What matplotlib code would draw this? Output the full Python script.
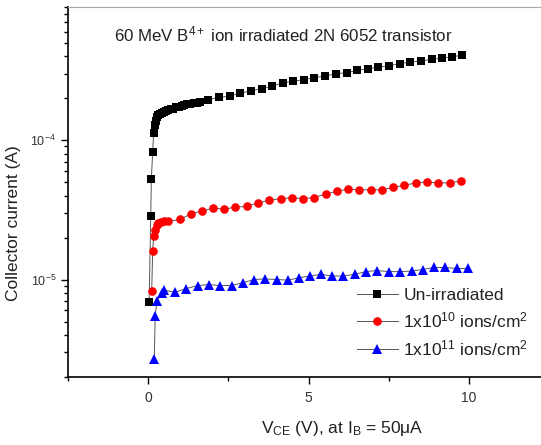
import matplotlib
matplotlib.use("Agg")
import matplotlib.pyplot as plt
from matplotlib.ticker import FixedLocator, LogLocator, NullFormatter, MultipleLocator

plt.rcParams["font.family"] = ["Liberation Sans", "DejaVu Sans"]
plt.rcParams["mathtext.fontset"] = "custom"
plt.rcParams["mathtext.rm"] = "Liberation Sans"
plt.rcParams["mathtext.it"] = "Liberation Sans"
plt.rcParams["mathtext.default"] = "regular"

# Un-irradiated
x_unirr = [0.03, 0.08, 0.10, 0.14, 0.17,
           0.20, 0.23, 0.27, 0.31, 0.36, 0.42, 0.48, 0.55, 0.62, 0.70,
           0.78, 0.86, 0.95, 1.04, 1.13, 1.22, 1.32, 1.42, 1.52, 1.62,
           1.88, 2.21, 2.55, 2.87, 3.20, 3.54, 3.85, 4.20, 4.53, 4.85,
           5.18, 5.51, 5.85, 6.19, 6.52, 6.85, 7.18, 7.51, 7.84, 8.16,
           8.50, 8.84, 9.17, 9.49, 9.80]
y_unirr = [6.9e-6, 2.87e-5, 5.3e-5, 8.2e-5, 1.12e-4,
           1.28e-4, 1.38e-4, 1.46e-4, 1.51e-4, 1.54e-4, 1.57e-4, 1.59e-4, 1.62e-4, 1.64e-4, 1.66e-4,
           1.68e-4, 1.72e-4, 1.74e-4, 1.76e-4, 1.78e-4, 1.80e-4, 1.82e-4, 1.84e-4, 1.85e-4, 1.88e-4,
           1.95e-4, 2.02e-4, 2.07e-4, 2.17e-4, 2.25e-4, 2.34e-4, 2.43e-4, 2.57e-4, 2.64e-4, 2.71e-4,
           2.80e-4, 2.88e-4, 2.99e-4, 3.04e-4, 3.16e-4, 3.25e-4, 3.34e-4, 3.41e-4, 3.53e-4, 3.62e-4,
           3.69e-4, 3.79e-4, 3.87e-4, 3.94e-4, 4.09e-4]

# 1x10^10 ions/cm^2
x_e10 = [0.11, 0.14, 0.17, 0.22, 0.26, 0.32, 0.40, 0.48, 0.63, 1.00, 1.33,
         1.67, 2.03, 2.37, 2.72, 3.08, 3.42, 3.78, 4.14, 4.49, 4.83,
         5.17, 5.54, 5.89, 6.23, 6.57, 6.95, 7.29, 7.63, 7.98, 8.35,
         8.69, 9.03, 9.41, 9.75]
y_e10 = [8.25e-6, 1.59e-5, 2.06e-5, 2.28e-5, 2.45e-5, 2.54e-5, 2.58e-5, 2.61e-5, 2.61e-5, 2.70e-5, 2.96e-5,
         3.10e-5, 3.25e-5, 3.20e-5, 3.30e-5, 3.35e-5, 3.55e-5, 3.70e-5, 3.80e-5, 3.86e-5, 3.80e-5,
         3.87e-5, 4.10e-5, 4.30e-5, 4.45e-5, 4.40e-5, 4.40e-5, 4.40e-5, 4.57e-5, 4.74e-5, 4.93e-5,
         5.00e-5, 4.93e-5, 4.93e-5, 5.10e-5]

# 1x10^11 ions/cm^2
x_e11 = [0.19, 0.22, 0.27, 0.42, 0.48, 0.84, 1.18, 1.55, 1.91, 2.24,
         2.60, 2.95, 3.30, 3.64, 4.02, 4.36, 4.70, 5.05, 5.39, 5.73,
         6.07, 6.45, 6.79, 7.13, 7.50, 7.85, 8.22, 8.57, 8.91, 9.25,
         9.63, 9.97]
y_e11 = [2.7e-6, 5.47e-6, 7.0e-6, 8.0e-6, 8.4e-6, 8.1e-6, 8.6e-6, 9.06e-6, 9.2e-6, 9.06e-6,
         9.06e-6, 9.47e-6, 1.00e-5, 1.01e-5, 1.00e-5, 9.9e-6, 1.03e-5, 1.06e-5, 1.09e-5, 1.06e-5,
         1.06e-5, 1.09e-5, 1.14e-5, 1.16e-5, 1.14e-5, 1.14e-5, 1.15e-5, 1.18e-5, 1.22e-5, 1.22e-5,
         1.20e-5, 1.20e-5]

labels = ["Un-irradiated", "1x10$^{10}$ ions/cm$^{2}$", "1x10$^{11}$ ions/cm$^{2}$"]

fig = plt.figure(figsize=(5.41, 4.45), dpi=100)
ax = fig.add_axes([68 / 541, 68 / 445, 1 - 68 / 541, 370 / 445])

line_kw = dict(color="#555555", lw=0.7, markeredgewidth=0)
ax.plot(x_unirr, y_unirr, marker="s", ms=5.2, markerfacecolor="black", label=labels[0], **line_kw)
ax.plot(x_e10, y_e10, marker="o", ms=6.2, markerfacecolor="#ff0000", label=labels[1], **line_kw)
ax.plot(x_e11, y_e11, marker="^", ms=6.8, markerfacecolor="#0000ff", label=labels[2], **line_kw)

ax.set_yscale("log")
ax.set_xlim(-2.5, 12.25)
ax.set_ylim(2e-6, 9e-4)

ax.xaxis.set_major_locator(FixedLocator([0, 5, 10]))
ax.xaxis.set_minor_locator(MultipleLocator(2.5))
ax.set_xticklabels(["0", "5", "10"])
ax.yaxis.set_major_locator(FixedLocator([1e-5, 1e-4]))
ax.set_yticklabels(["10$^{-5}$", "10$^{-4}$"])
ax.yaxis.set_minor_locator(LogLocator(base=10, subs=range(2, 10)))
ax.yaxis.set_minor_formatter(NullFormatter())

ax.tick_params(axis="both", which="major", direction="out", length=5, width=1, labelsize=10, colors="black")
ax.tick_params(axis="both", which="minor", direction="out", length=3, width=1)
ax.tick_params(axis="x", labelcolor="#333333", pad=5)
ax.tick_params(axis="y", labelsize=9, labelcolor="#333333")

ax.spines["right"].set_visible(False)
ax.spines["top"].set_color("#aaaaaa")
ax.spines["left"].set_linewidth(1.2)
ax.spines["bottom"].set_linewidth(1.2)

ax.text(0.455, 0.925, "60 MeV B$^{4+}$ ion irradiated 2N 6052 transistor",
        transform=ax.transAxes, ha="center", va="center", fontsize=12.2, color="#222222")

ax.set_xlabel("V$_{CE}$ (V), at I$_{B}$ = 50\u03bcA", fontsize=12.5, color="#222222")
ax.xaxis.set_label_coords(0.58, -0.114)
ax.set_ylabel("Collector current (A)", fontsize=12.5, color="#222222")
ax.yaxis.set_label_coords(-0.1, 0.416)

leg = ax.legend(loc="upper left", bbox_to_anchor=(0.61, 0.242), frameon=False,
                fontsize=12.5, handlelength=2.4, handletextpad=0.3,
                labelspacing=0.45, borderpad=0, borderaxespad=0)
for t in leg.get_texts():
    t.set_color("#222222")

fig.savefig("out.png", dpi=100)
